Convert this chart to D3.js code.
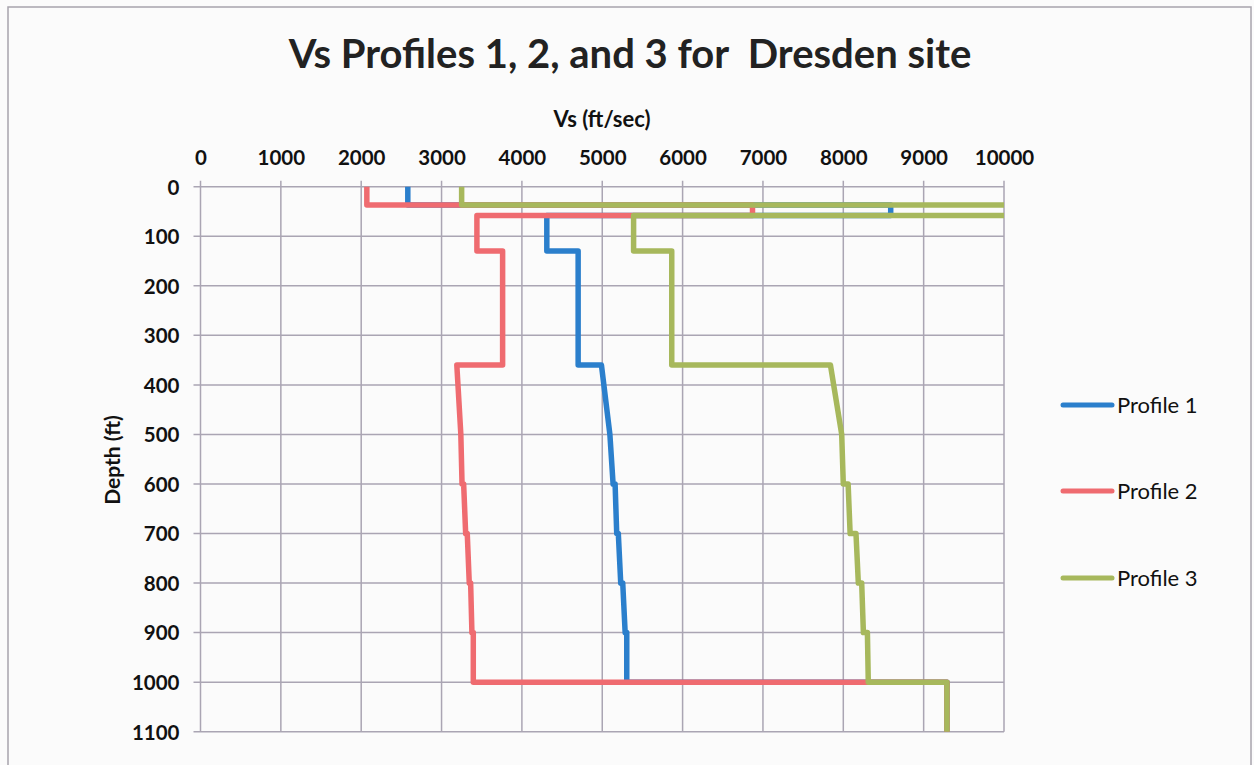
<!DOCTYPE html>
<html>
<head>
<meta charset="utf-8">
<script src="https://cdnjs.cloudflare.com/ajax/libs/d3/7.8.5/d3.min.js"></script>
<style>
  body { margin: 0; background: #fbfbfb; }
  svg { display: block; }
  .tick text { font-family: Lato, "Open Sans", sans-serif; font-weight: bold; fill: #111; }
</style>
</head>
<body>
<div id="chart"></div>
<script>
// =============================================================================
// data
// =============================================================================
var xTicks = [0, 1000, 2000, 3000, 4000, 5000, 6000, 7000, 8000, 9000, 10000];
var yTicks = [0, 100, 200, 300, 400, 500, 600, 700, 800, 900, 1000, 1100];

var profileNames = ["Profile 1", "Profile 2", "Profile 3"];
var profileColors = ["#2b7fcc", "#ef6b70", "#a7b85c"];

// depth (ft) / Vs (ft/sec) pairs, step shaped
var depth1 = [0, 37, 37, 58, 58, 130, 130, 360, 360, 500, 600, 600, 700, 700, 800, 800, 900, 900, 1000, 1000, 1100];
var vs1    = [2580, 2580, 8590, 8590, 4310, 4310, 4700, 4700, 4990, 5095, 5135, 5160, 5180, 5200, 5230, 5255, 5285, 5305, 5305, 9290, 9290];

var depth2 = [0, 37, 37, 58, 58, 130, 130, 360, 360, 500, 600, 600, 700, 700, 800, 800, 900, 900, 1000, 1000, 1100];
var vs2    = [2070, 2070, 6870, 6870, 3440, 3440, 3760, 3760, 3190, 3240, 3255, 3275, 3300, 3320, 3345, 3362, 3378, 3395, 3395, 9290, 9290];

var depth3 = [0, 37, 37, 58, 58, 130, 130, 360, 360, 500, 600, 600, 700, 700, 800, 800, 900, 900, 1000, 1000, 1100];
var vs3    = [3250, 3250, 11000, 11000, 5390, 5390, 5865, 5865, 7840, 7980, 8000, 8060, 8085, 8158, 8187, 8229, 8250, 8300, 8311, 9290, 9290];

var depths = [depth1, depth2, depth3];
var values = [vs1, vs2, vs3];

// =============================================================================
// UI
// =============================================================================
var width = 1254, height = 765;
var plot = { left: 200.5, right: 1004, top: 186.7, bottom: 731.7 };
var fontFamily = "Lato, 'Open Sans', sans-serif";

var svg = d3.select("#chart").append("svg")
    .attr("width", width)
    .attr("height", height);

// outer frame
svg.append("rect")
    .attr("x", 8).attr("y", 7)
    .attr("width", 1243).attr("height", 780)
    .attr("fill", "#fbfbfb")
    .attr("stroke", "#a8a4ad")
    .attr("stroke-width", 1.5);

var x = d3.scaleLinear().domain([0, 10000]).range([plot.left, plot.right]);
var y = d3.scaleLinear().domain([0, 1100]).range([plot.top, plot.bottom]);

// grid
var grid = svg.append("g").attr("class", "grid");

grid.selectAll("line.v")
    .data(xTicks)
    .join(function (enter) { return enter.append("line").attr("class", "v"); })
    .attr("x1", function (d) { return x(d); })
    .attr("x2", function (d) { return x(d); })
    .attr("y1", plot.top - 6)
    .attr("y2", plot.bottom)
    .attr("stroke", "#aaa5b3")
    .attr("stroke-width", 1.5);

grid.selectAll("line.h")
    .data(yTicks)
    .join(function (enter) { return enter.append("line").attr("class", "h"); })
    .attr("x1", plot.left - 7)
    .attr("x2", plot.right)
    .attr("y1", function (d) { return y(d); })
    .attr("y2", function (d) { return y(d); })
    .attr("stroke", "#aaa5b3")
    .attr("stroke-width", 1.5);

// X axis (top)
var xAxis = svg.append("g")
    .attr("transform", "translate(0," + plot.top + ")")
    .call(d3.axisTop(x).tickValues(xTicks).tickSize(0).tickPadding(22).tickFormat(d3.format("d")));
xAxis.select(".domain").remove();
xAxis.selectAll("text").style("font-size", "20.5px");

// Y axis (left)
var yAxis = svg.append("g")
    .attr("transform", "translate(" + plot.left + ",0)")
    .call(d3.axisLeft(y).tickValues(yTicks).tickSize(0).tickPadding(21).tickFormat(d3.format("d")));
yAxis.select(".domain").remove();
yAxis.selectAll("text").style("font-size", "20.5px").attr("dy", "0.36em");

// title
svg.append("text")
    .attr("x", 630)
    .attr("y", 68)
    .attr("text-anchor", "middle")
    .style("font-family", fontFamily)
    .style("font-weight", "bold")
    .style("font-size", "40px")
    .style("white-space", "pre")
    .attr("fill", "#222")
    .text("Vs Profiles 1, 2, and 3 for  Dresden site");

// axis labels
svg.append("text")
    .attr("x", 602)
    .attr("y", 127)
    .attr("text-anchor", "middle")
    .style("font-family", fontFamily)
    .style("font-weight", "bold")
    .style("font-size", "22px")
    .attr("fill", "#111")
    .text("Vs (ft/sec)");

svg.append("text")
    .attr("transform", "translate(120,460) rotate(-90)")
    .attr("text-anchor", "middle")
    .style("font-family", fontFamily)
    .style("font-weight", "bold")
    .style("font-size", "21px")
    .attr("fill", "#111")
    .text("Depth (ft)");

// clip for lines
svg.append("clipPath").attr("id", "plotClip")
    .append("rect")
    .attr("x", plot.left - 4).attr("y", plot.top - 4)
    .attr("width", plot.right - plot.left + 4)
    .attr("height", plot.bottom - plot.top + 8);

var line = d3.line()
    .x(function (d) { return x(d.vs); })
    .y(function (d) { return y(d.depth); });

var lines = svg.append("g").attr("clip-path", "url(#plotClip)");

profileNames.forEach(function (name, i) {
    var pts = depths[i].map(function (dp, j) { return { depth: dp, vs: values[i][j] }; });
    lines.append("path")
        .datum(pts)
        .attr("fill", "none")
        .attr("stroke", profileColors[i])
        .attr("stroke-width", 5.5)
        .attr("stroke-linejoin", "round")
        .attr("d", line);
});

// legend
var legendY = [405, 491, 578];
var legend = svg.append("g");
profileNames.forEach(function (name, i) {
    legend.append("line")
        .attr("x1", 1063).attr("x2", 1112)
        .attr("y1", legendY[i]).attr("y2", legendY[i])
        .attr("stroke", profileColors[i])
        .attr("stroke-width", 5)
        .attr("stroke-linecap", "round");
    legend.append("text")
        .attr("x", 1117)
        .attr("y", legendY[i] + 8)
        .style("font-family", fontFamily)
        .style("font-size", "22px")
        .attr("fill", "#111")
        .text(name);
});
</script>
</body>
</html>
